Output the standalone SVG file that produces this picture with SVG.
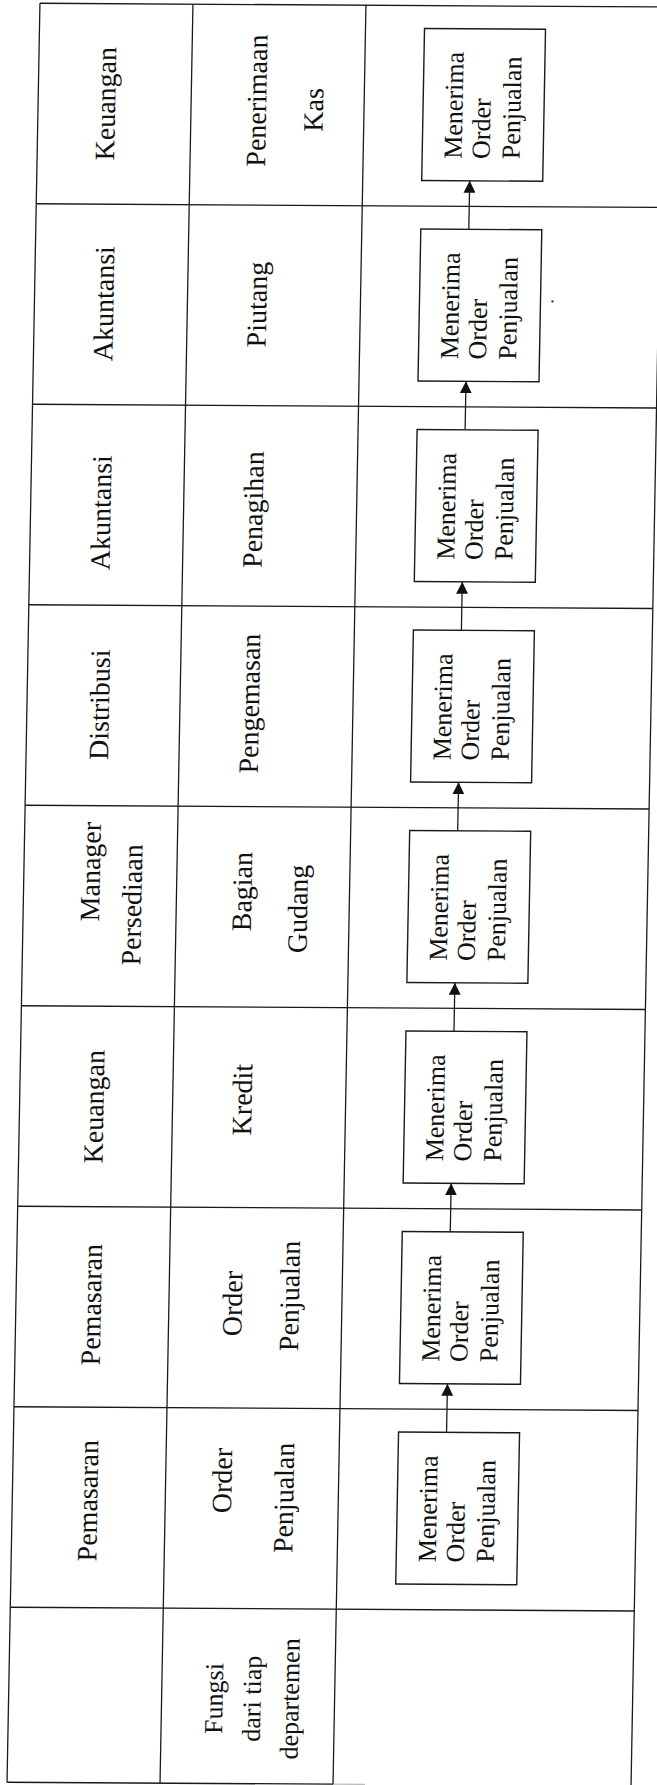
<svg xmlns="http://www.w3.org/2000/svg" width="657" height="1785" viewBox="0 0 657 1785">
<style>
.ln{stroke:#1a1a1a;stroke-width:1.3;fill:none}
.stub{stroke:#bdbdbd;stroke-width:1.3;fill:none}
.box{fill:#fff;stroke:#1a1a1a;stroke-width:1.4}
.lb{font-family:"Liberation Serif","Times New Roman",serif;font-size:28px;fill:#111;text-anchor:middle}
.sm{font-size:26px}
.bt{font-family:"Liberation Serif","Times New Roman",serif;font-size:26px;fill:#111}
.arr{stroke:#1a1a1a;stroke-width:1.3;fill:none;marker-end:url(#ah)}
</style>
<defs>
<marker id="ah" viewBox="0 0 12 12" markerWidth="12" markerHeight="12" refX="12" refY="6" orient="auto" markerUnits="userSpaceOnUse">
<path d="M0,0 L12,6 L0,12 Z" fill="#111"/>
</marker>
</defs>
<rect width="657" height="1785" fill="#fff"/>
<!-- whole table is drawn in a straight frame, then slightly tilted like the printed page -->
<g transform="matrix(1 0.006 -0.0185 1 0 0)">
<g id="grid">
<path class="ln" d="M40,3H664 M40,203.5H664 M40,404H664 M40,604.5H664 M40,805H664 M40,1005.5H664 M40,1206H664 M40,1406.5H664 M40,1607H664 M40,1782H366"/>
<path class="stub" d="M366,1782H398"/>
<path class="ln" d="M40,3V1782 M193,3V1782 M366,3V1782 M664,3V1782"/>
<circle cx="558" cy="298" r="1.2" fill="#333"/>
</g>
<g id="departemen">
<text class="lb" transform="translate(117,103) rotate(-90)">Keuangan</text>
<text class="lb" transform="translate(119,303) rotate(-90)">Akuntansi</text>
<text class="lb" transform="translate(120,512) rotate(-90)">Akuntansi</text>
<text class="lb" transform="translate(122,704) rotate(-90)">Distribusi</text>
<text class="lb" transform="translate(116,871) rotate(-90)">Manager</text>
<text class="lb" transform="translate(158,904) rotate(-90)">Persediaan</text>
<text class="lb" transform="translate(124,1106) rotate(-90)">Keuangan</text>
<text class="lb" transform="translate(125,1304) rotate(-90)">Pemasaran</text>
<text class="lb" transform="translate(125,1500) rotate(-90)">Pemasaran</text>
</g>
<g id="fungsi">
<text class="lb" transform="translate(268,99) rotate(-90)">Penerimaan</text>
<text class="lb" transform="translate(325,108) rotate(-90)">Kas</text>
<text class="lb" transform="translate(272,303) rotate(-90)">Piutang</text>
<text class="lb" transform="translate(272,508) rotate(-90)">Penagihan</text>
<text class="lb" transform="translate(272,702) rotate(-90)">Pengemasan</text>
<text class="lb" transform="translate(268,890) rotate(-90)">Bagian</text>
<text class="lb" transform="translate(324,907) rotate(-90)">Gudang</text>
<text class="lb" transform="translate(272,1098) rotate(-90)">Kredit</text>
<text class="lb" transform="translate(266,1302) rotate(-90)">Order</text>
<text class="lb" transform="translate(323,1294) rotate(-90)">Penjualan</text>
<text class="lb" transform="translate(259,1479) rotate(-90)">Order</text>
<text class="lb" transform="translate(321,1496) rotate(-90)">Penjualan</text>
<text class="lb sm" transform="translate(254,1697) rotate(-90)">Fungsi</text>
<text class="lb sm" transform="translate(292,1697) rotate(-90)">dari tiap</text>
<text class="lb sm" transform="translate(330,1697) rotate(-90)">departemen</text>
</g>
<g id="connectors">
<line class="arr" x1="473" y1="226.5" x2="473" y2="178"/>
<line class="arr" x1="473" y1="427" x2="473" y2="378.5"/>
<line class="arr" x1="473" y1="627.5" x2="473" y2="579"/>
<line class="arr" x1="473" y1="828" x2="473" y2="779.5"/>
<line class="arr" x1="473" y1="1028.5" x2="473" y2="980"/>
<line class="arr" x1="473" y1="1229" x2="473" y2="1180.5"/>
<line class="arr" x1="473" y1="1429.5" x2="473" y2="1381"/>
</g>
<g id="box1"><rect class="box" x="425" y="26" width="121" height="152"/><text class="bt" transform="translate(464.5,156) rotate(-90)"><tspan x="0" y="0">Menerima</tspan><tspan x="0" y="28">Order</tspan><tspan x="0" y="58">Penjualan</tspan></text></g>
<g id="box2"><rect class="box" x="425" y="226.5" width="121" height="152"/><text class="bt" transform="translate(464.5,356.5) rotate(-90)"><tspan x="0" y="0">Menerima</tspan><tspan x="0" y="28">Order</tspan><tspan x="0" y="58">Penjualan</tspan></text></g>
<g id="box3"><rect class="box" x="425" y="427" width="121" height="152"/><text class="bt" transform="translate(464.5,557) rotate(-90)"><tspan x="0" y="0">Menerima</tspan><tspan x="0" y="28">Order</tspan><tspan x="0" y="58">Penjualan</tspan></text></g>
<g id="box4"><rect class="box" x="425" y="627.5" width="121" height="152"/><text class="bt" transform="translate(464.5,757.5) rotate(-90)"><tspan x="0" y="0">Menerima</tspan><tspan x="0" y="28">Order</tspan><tspan x="0" y="58">Penjualan</tspan></text></g>
<g id="box5"><rect class="box" x="425" y="828" width="121" height="152"/><text class="bt" transform="translate(464.5,958) rotate(-90)"><tspan x="0" y="0">Menerima</tspan><tspan x="0" y="28">Order</tspan><tspan x="0" y="58">Penjualan</tspan></text></g>
<g id="box6"><rect class="box" x="425" y="1028.5" width="121" height="152"/><text class="bt" transform="translate(464.5,1158.5) rotate(-90)"><tspan x="0" y="0">Menerima</tspan><tspan x="0" y="28">Order</tspan><tspan x="0" y="58">Penjualan</tspan></text></g>
<g id="box7"><rect class="box" x="425" y="1229" width="121" height="152"/><text class="bt" transform="translate(464.5,1359) rotate(-90)"><tspan x="0" y="0">Menerima</tspan><tspan x="0" y="28">Order</tspan><tspan x="0" y="58">Penjualan</tspan></text></g>
<g id="box8"><rect class="box" x="425" y="1429.5" width="121" height="152"/><text class="bt" transform="translate(464.5,1559.5) rotate(-90)"><tspan x="0" y="0">Menerima</tspan><tspan x="0" y="28">Order</tspan><tspan x="0" y="58">Penjualan</tspan></text></g>
</g>
</svg>
